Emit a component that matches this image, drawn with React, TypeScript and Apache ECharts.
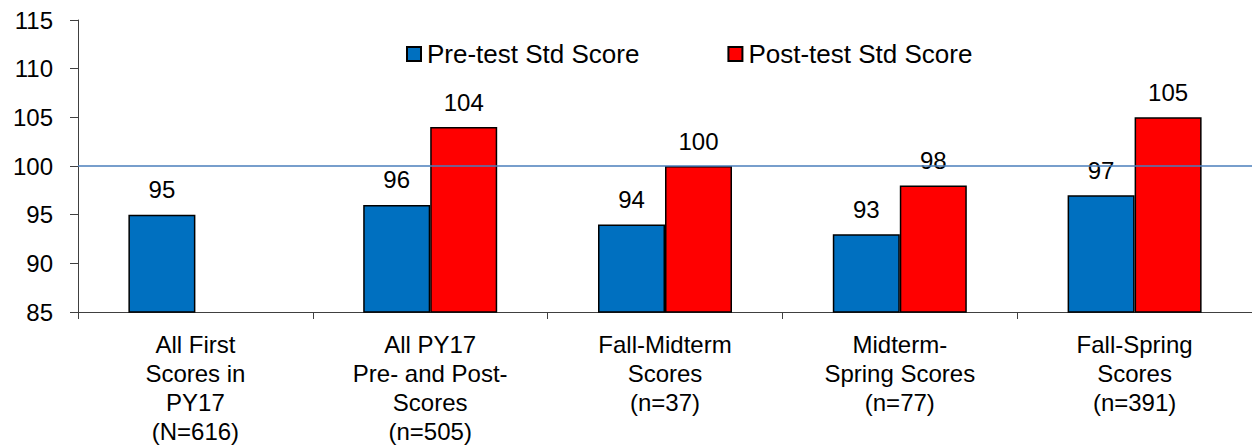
import React, { useEffect, useRef } from "react";
import * as echarts from "echarts";

const categories = [
  "All First\nScores in\nPY17\n(N=616)",
  "All PY17\nPre- and Post-\nScores\n(n=505)",
  "Fall-Midterm\nScores\n(n=37)",
  "Midterm-\nSpring Scores\n(n=77)",
  "Fall-Spring\nScores\n(n=391)",
];
const preScores: (number | null)[] = [95, 96, 94, 93, 97];
const postScores: (number | null)[] = [null, 104, 100, 98, 105];
const seriesNames = ["Pre-test Std Score", "Post-test Std Score"];
const referenceValue = 100;

const FONT = "'Liberation Sans', Arial, sans-serif";

export default function App() {
  const ref = useRef<HTMLDivElement>(null);
  useEffect(() => {
    if (!ref.current) return;
    const chart = echarts.init(ref.current, null, { renderer: "svg" });
    const labelStyle = {
      show: true,
      position: "top" as const,
      distance: 13,
      color: "#000",
      fontSize: 24,
      fontFamily: FONT,
    };
    chart.setOption({
      animation: false,
      backgroundColor: "#fff",
      textStyle: { fontFamily: FONT },
      grid: { left: 78, right: 0, top: 20, bottom: 136, containLabel: false },
      legend: {
        left: 401,
        top: 36,
        itemWidth: 14,
        itemHeight: 14,
        itemGap: 88,
        icon: "rect",
        textStyle: { fontSize: 26, color: "#000", fontFamily: FONT, padding: [0, 0, 0, 1] },
        data: seriesNames,
      },
      xAxis: {
        type: "category",
        data: categories,
        axisLine: { show: true, lineStyle: { color: "#404040", width: 1 } },
        axisTick: { show: true, length: 7, lineStyle: { color: "#404040" } },
        axisLabel: {
          color: "#000",
          fontSize: 24,
          lineHeight: 29,
          margin: 18,
          fontFamily: FONT,
          interval: 0,
        },
      },
      yAxis: {
        type: "value",
        min: 85,
        max: 115,
        interval: 5,
        axisLine: { show: true, lineStyle: { color: "#404040", width: 1 } },
        axisTick: { show: true, inside: false, length: 8, lineStyle: { color: "#404040" } },
        splitLine: { show: false },
        axisLabel: { color: "#000", fontSize: 24, margin: 25, fontFamily: FONT },
      },
      series: [
        {
          name: seriesNames[0],
          type: "bar",
          data: preScores,
          barWidth: 67,
          barGap: "0%",
          itemStyle: { color: "#0070C0", borderColor: "#000", borderWidth: 1.5 },
          label: labelStyle,
          markLine: {
            silent: true,
            symbol: "none",
            label: { show: false },
            lineStyle: { color: "#4A7EBB", width: 1.5, type: "solid" },
            data: [{ yAxis: referenceValue }],
            z: 10,
          },
        },
        {
          name: seriesNames[1],
          type: "bar",
          data: postScores,
          barWidth: 67,
          barGap: "0%",
          itemStyle: { color: "#FF0000", borderColor: "#000", borderWidth: 1.5 },
          label: labelStyle,
        },
      ],
    });
    return () => chart.dispose();
  }, []);
  return (
    <div
      ref={ref}
      style={{ position: "fixed", left: 0, top: 0, width: 1252, height: 448, background: "#fff" }}
    />
  );
}
